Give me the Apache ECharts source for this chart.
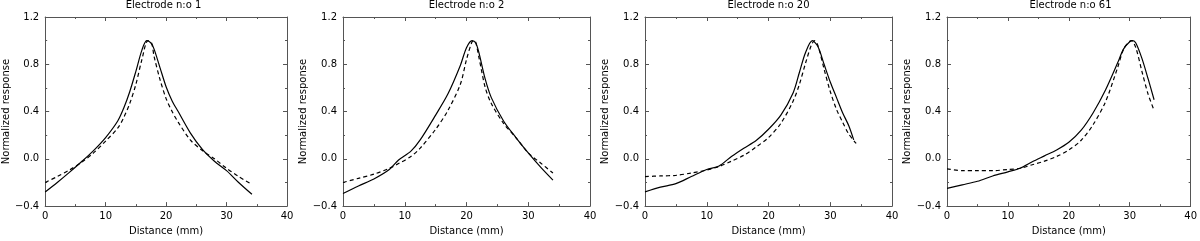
<!DOCTYPE html>
<html>
<head>
<meta charset="utf-8">
<script src="https://cdn.jsdelivr.net/npm/echarts@6/dist/echarts.min.js"></script>
<style>html,body{margin:0;padding:0;background:#fff}#c{width:1200px;height:241px}</style>
</head>
<body>
<div id="c"></div>
<script>
// ---- data ----
const titles = ['Electrode n:o 1', 'Electrode n:o 2', 'Electrode n:o 20', 'Electrode n:o 61'];
const xTicks = [0, 10, 20, 30, 40];
const yTicks = [-0.4, 0.0, 0.4, 0.8, 1.2];

const p1SolidX = [0, 2, 4, 6, 8, 10, 12, 13, 14, 15, 16, 16.8, 17.5, 18, 19, 20, 21, 22, 24, 26, 28, 30, 32, 34.2];
const p1SolidY = [-0.28, -0.2, -0.115, -0.025, 0.07, 0.18, 0.32, 0.43, 0.57, 0.74, 0.92, 1.0, 0.98, 0.93, 0.77, 0.61, 0.49, 0.40, 0.22, 0.08, -0.02, -0.10, -0.20, -0.30];
const p1DashX = [0, 2, 4, 6, 8, 10, 12, 13, 14, 15, 16, 17, 17.6, 18, 19, 20, 21, 22, 24, 26, 28, 30, 32, 34];
const p1DashY = [-0.20, -0.15, -0.095, -0.03, 0.05, 0.15, 0.26, 0.35, 0.47, 0.63, 0.84, 1.0, 0.98, 0.87, 0.67, 0.51, 0.40, 0.31, 0.16, 0.07, 0.0, -0.08, -0.15, -0.21];

const p2SolidX = [0, 2.5, 5, 7.5, 9, 11, 12.5, 15, 17, 19, 20, 20.9, 21.5, 22, 23, 24, 26, 28, 30, 32, 34];
const p2SolidY = [-0.294, -0.23, -0.17, -0.09, -0.01, 0.065, 0.16, 0.37, 0.55, 0.79, 0.94, 1.0, 0.98, 0.90, 0.68, 0.52, 0.32, 0.18, 0.05, -0.07, -0.18];
const p2DashX = [0, 2.5, 5, 7.5, 9, 11, 12.5, 15, 17, 19, 20, 20.9, 21.3, 22, 23, 24, 26, 28, 30, 32, 34];
const p2DashY = [-0.20, -0.165, -0.13, -0.08, -0.04, 0.02, 0.09, 0.25, 0.41, 0.63, 0.84, 0.99, 1.0, 0.86, 0.61, 0.47, 0.30, 0.18, 0.05, -0.035, -0.12];

const p3SolidX = [0, 2.5, 5, 7.5, 10, 12, 14, 16, 18, 20, 22, 24, 25, 26, 27.1, 28, 29, 30, 31, 32, 33, 33.8];
const p3SolidY = [-0.28, -0.24, -0.21, -0.15, -0.09, -0.06, 0.02, 0.09, 0.155, 0.25, 0.37, 0.56, 0.73, 0.90, 1.0, 0.95, 0.80, 0.65, 0.52, 0.39, 0.28, 0.16];
const p3DashX = [0, 2.5, 5, 7.5, 10, 12, 14, 16, 18, 20, 22, 24, 25, 26, 27, 27.5, 28, 29, 30, 31, 32, 33, 34.2];
const p3DashY = [-0.15, -0.145, -0.14, -0.12, -0.095, -0.065, -0.02, 0.03, 0.10, 0.18, 0.30, 0.49, 0.63, 0.81, 0.97, 1.0, 0.96, 0.76, 0.57, 0.42, 0.31, 0.21, 0.13];

const p4SolidX = [0, 2.5, 5, 7.5, 10, 12, 14, 16, 18, 20, 22, 24, 26, 28, 29, 30, 30.5, 31, 32, 33, 34];
const p4SolidY = [-0.25, -0.22, -0.19, -0.145, -0.11, -0.08, -0.025, 0.025, 0.075, 0.14, 0.24, 0.39, 0.58, 0.81, 0.93, 0.99, 1.0, 0.98, 0.85, 0.68, 0.50];
const p4DashX = [0, 2.5, 5, 7.5, 10, 12, 14, 16, 18, 20, 22, 24, 26, 28, 29, 30, 30.3, 31, 32, 33, 34];
const p4DashY = [-0.085, -0.10, -0.10, -0.10, -0.09, -0.08, -0.05, -0.02, 0.02, 0.075, 0.155, 0.29, 0.48, 0.77, 0.93, 0.995, 1.0, 0.94, 0.74, 0.55, 0.41];

const panels = [
  [p1SolidX, p1SolidY, p1DashX, p1DashY],
  [p2SolidX, p2SolidY, p2DashX, p2DashY],
  [p3SolidX, p3SolidY, p3DashX, p3DashY],
  [p4SolidX, p4SolidY, p4DashX, p4DashY]
];

// ---- layout ----
const FONT = 'DejaVu Sans';
const FS = 10;
const gridLefts = [40, 343, 645, 947];
const gridTop = 17, gridW = 247, gridH = 196;
const axisColor = '#555';

const zip = (xs, ys) => xs.map((x, i) => [x, ys[i]]);
const fmtY = v => {
  const r = Math.round(v * 10) / 10;
  return (r < 0 ? '\u2212' : '') + Math.abs(r).toFixed(1);
};

const grid = [], xAxis = [], yAxis = [], series = [], title = [];
gridLefts.forEach((L, i) => {
  grid.push({ left: L, top: gridTop, width: gridW, height: gridH, containLabel: false });
  title.push({
    text: titles[i], left: L + gridW / 2, top: 0, textAlign: 'center', padding: 0,
    textStyle: { fontSize: FS, fontWeight: 'normal', color: '#000', fontFamily: FONT }
  });
  const xBase = {
    type: 'value', gridIndex: i, min: xTicks[0], max: xTicks[xTicks.length - 1], interval: xTicks[1] - xTicks[0],
    axisLine: { show: true, onZero: false, lineStyle: { color: axisColor, width: 1 } },
    axisTick: { show: true, inside: true, length: 4, lineStyle: { color: axisColor } },
    minorTick: { show: true, splitNumber: 2, length: 2, lineStyle: { color: axisColor } },
    splitLine: { show: false }
  };
  xAxis.push(Object.assign({}, xBase, {
    position: 'bottom',
    name: 'Distance (mm)', nameLocation: 'middle', nameGap: 17,
    nameTextStyle: { fontSize: FS, color: '#000', fontFamily: FONT },
    axisLabel: { show: true, margin: 5, fontSize: FS, color: '#000', fontFamily: FONT, showMinLabel: true, showMaxLabel: true }
  }));
  xAxis.push(Object.assign({}, xBase, { position: 'top', axisLabel: { show: false } }));
  const yBase = {
    type: 'value', gridIndex: i, min: yTicks[0], max: yTicks[yTicks.length - 1], interval: yTicks[1] - yTicks[0],
    axisLine: { show: true, onZero: false, lineStyle: { color: axisColor, width: 1 } },
    axisTick: { show: true, inside: true, length: 4, lineStyle: { color: axisColor } },
    minorTick: { show: true, splitNumber: 2, length: 2, lineStyle: { color: axisColor } },
    splitLine: { show: false }
  };
  yAxis.push(Object.assign({}, yBase, {
    position: 'left',
    name: 'Normalized response', nameLocation: 'middle', nameGap: 28, nameRotate: 90,
    nameTextStyle: { fontSize: FS, color: '#000', fontFamily: FONT },
    axisLabel: { show: true, margin: 6, fontSize: FS, color: '#000', fontFamily: FONT, formatter: fmtY, showMinLabel: true, showMaxLabel: true }
  }));
  yAxis.push(Object.assign({}, yBase, { position: 'right', axisLabel: { show: false } }));

  const [sx, sy, dx, dy] = panels[i];
  series.push({
    type: 'line', xAxisIndex: 2 * i, yAxisIndex: 2 * i, data: zip(sx, sy), smooth: 0.3,
    showSymbol: false, symbol: 'none', lineStyle: { color: '#000', width: 1.2, type: 'solid' }, animation: false, silent: true
  });
  series.push({
    type: 'line', xAxisIndex: 2 * i, yAxisIndex: 2 * i, data: zip(dx, dy), smooth: 0.3,
    showSymbol: false, symbol: 'none', lineStyle: { color: '#000', width: 1.2, type: [4, 3] }, animation: false, silent: true
  });
});

const chart = echarts.init(document.getElementById('c'), null, { renderer: 'canvas' });
chart.setOption({ animation: false, backgroundColor: '#fff', title, grid, xAxis, yAxis, series });
</script>
</body>
</html>
